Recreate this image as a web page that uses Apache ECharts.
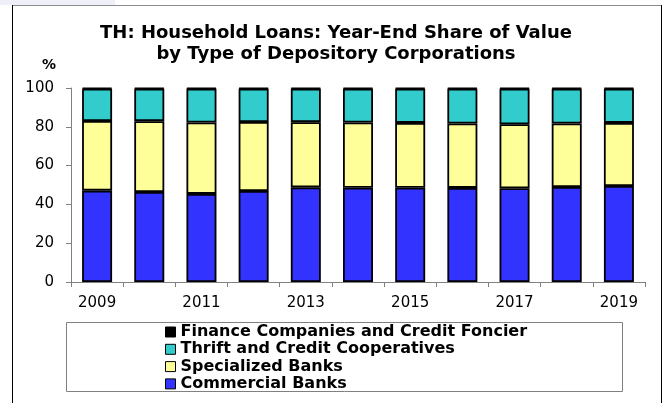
<!DOCTYPE html>
<html>
<head>
<meta charset="utf-8">
<script src="https://cdn.jsdelivr.net/npm/echarts@6/dist/echarts.min.js"></script>
<style>
html,body{margin:0;padding:0;background:#fff;}
#chart{width:672px;height:403px;}
</style>
</head>
<body>
<div id="chart"></div>
<script>
var years = ['2009','2010','2011','2012','2013','2014','2015','2016','2017','2018','2019'];
var commercialBanks = [47.1, 46.4, 45.4, 46.9, 48.8, 48.6, 48.6, 48.5, 48.3, 49.0, 49.5];
var specializedBanks = [35.9, 36.5, 36.8, 35.6, 33.6, 33.6, 33.4, 33.2, 33.0, 32.7, 32.5];
var thriftCoops = [16.6, 16.7, 17.4, 17.1, 17.2, 17.4, 17.6, 17.9, 18.3, 17.9, 17.6];
var financeCompanies = [0.4, 0.4, 0.4, 0.4, 0.4, 0.4, 0.4, 0.4, 0.4, 0.4, 0.4];
var yTicks = [0, 20, 40, 60, 80, 100];

var FONT = '"DejaVu Sans", "Liberation Sans", Arial, sans-serif';
var chart = echarts.init(document.getElementById('chart'), null, {renderer: 'canvas'});

function barSeries(name, data, color) {
  return {
    name: name,
    type: 'bar',
    stack: 'total',
    data: data,
    barWidth: 30,
    itemStyle: {color: color, borderColor: '#000', borderWidth: 1.8},
    emphasis: {disabled: true}
  };
}

var legendIcon = {borderColor: '#000', borderWidth: 1};

var option = {
  animation: false,
  backgroundColor: '#fff',
  textStyle: {fontFamily: FONT},
  title: {
    text: 'TH: Household Loans: Year-End Share of Value\nby Type of Depository Corporations',
    left: 'center',
    top: 18,
    textStyle: {fontFamily: FONT, fontSize: 18, fontWeight: 'bold', color: '#000', lineHeight: 21}
  },
  graphic: [
    {type: 'rect', shape: {x: 0, y: 0, width: 115, height: 5}, style: {fill: '#EEEFF8'}, silent: true},
    {type: 'line', shape: {x1: 12, y1: 5.5, x2: 662, y2: 5.5}, style: {stroke: '#8c8c8c', lineWidth: 1}, silent: true},
    {type: 'line', shape: {x1: 12.5, y1: 5, x2: 12.5, y2: 403}, style: {stroke: '#000', lineWidth: 1}, silent: true},
    {type: 'line', shape: {x1: 661.5, y1: 5, x2: 661.5, y2: 403}, style: {stroke: '#000', lineWidth: 1}, silent: true},
    {type: 'rect', shape: {x: 66.5, y: 322.5, width: 556, height: 69}, style: {fill: 'none', stroke: '#808080', lineWidth: 1}, silent: true},
    {type: 'text', left: 42, top: 58, style: {text: '%', font: 'bold 14px ' + FONT, fill: '#000'}, silent: true}
  ],
  legend: {
    orient: 'vertical',
    left: 165,
    top: 324,
    padding: 0,
    itemGap: 1.3,
    itemWidth: 10,
    itemHeight: 10,
    selectedMode: false,
    data: [
      {name: 'Finance Companies and Credit Foncier', icon: 'rect', itemStyle: legendIcon},
      {name: 'Thrift and Credit Cooperatives', icon: 'rect', itemStyle: legendIcon},
      {name: 'Specialized Banks', icon: 'rect', itemStyle: legendIcon},
      {name: 'Commercial Banks', icon: 'rect', itemStyle: legendIcon}
    ],
    textStyle: {fontFamily: FONT, fontSize: 16, fontWeight: 'bold', color: '#000', lineHeight: 16}
  },
  grid: {left: 71, right: 27, top: 88, bottom: 121, containLabel: false},
  xAxis: {
    type: 'category',
    data: years,
    boundaryGap: true,
    axisLine: {lineStyle: {color: '#808080', width: 1}},
    axisTick: {show: true, interval: 0, length: 5, lineStyle: {color: '#808080'}},
    axisLabel: {interval: 1, margin: 14, fontFamily: FONT, fontSize: 15, color: '#000'},
    splitLine: {show: false}
  },
  yAxis: {
    type: 'value',
    min: yTicks[0],
    max: yTicks[yTicks.length - 1],
    interval: yTicks[1] - yTicks[0],
    axisLine: {show: true, lineStyle: {color: '#808080', width: 1}},
    axisTick: {show: true, length: 5, lineStyle: {color: '#808080'}},
    axisLabel: {margin: 17, fontFamily: FONT, fontSize: 15, color: '#000'},
    splitLine: {show: false}
  },
  series: [
    barSeries('Commercial Banks', commercialBanks, '#3333FF'),
    barSeries('Specialized Banks', specializedBanks, '#FFFF99'),
    barSeries('Thrift and Credit Cooperatives', thriftCoops, '#33CCCC'),
    barSeries('Finance Companies and Credit Foncier', financeCompanies, '#000000')
  ]
};
chart.setOption(option);
</script>
</body>
</html>
